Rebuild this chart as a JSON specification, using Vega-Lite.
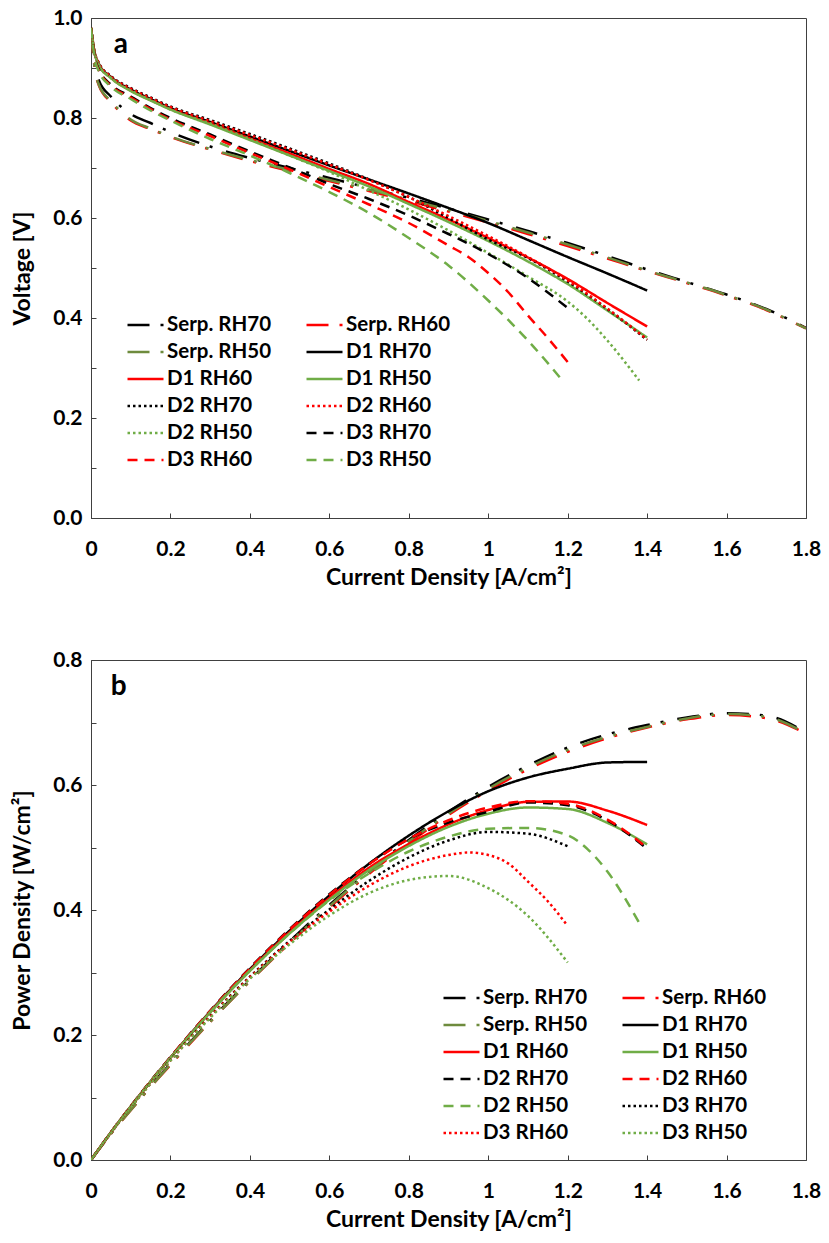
{
  "$schema": "https://vega.github.io/schema/vega-lite/v6.json",
  "background": "white",
  "padding": {"left": 11, "top": 6, "right": 8, "bottom": 5},
  "spacing": 58,
  "config": {
    "font": "Lato",
    "view": {"stroke": "#404040", "strokeWidth": 1},
    "axis": {"domainColor": "#404040", "tickColor": "#404040", "tickSize": -5, "labelFont": "Lato", "labelFontSize": 21, "labelFontWeight": "bold", "labelColor": "#000", "titleFont": "Lato", "titleFontSize": 23, "titleFontWeight": "bold", "titleColor": "#000", "grid": false, "labelOverlap": false, "labelFlush": false},
    "axisX": {"labelPadding": 25, "titlePadding": 7},
    "axisY": {"labelPadding": 14, "titlePadding": 18},
    "legend": {"title": null, "orient": "none", "direction": "horizontal", "columns": 2, "symbolType": "M-1.8,0H1.8", "symbolSize": 400, "symbolOffset": 8, "symbolStrokeWidth": 2.5, "labelFont": "Lato", "labelFontSize": 20.5, "labelFontWeight": "bold", "labelColor": "#000", "labelOffset": 10, "columnPadding": 29, "padding": 0, "labelLimit": 300}
  },
  "datasets": {
    "pol": [
      {"s":"Serp. RH70","i":0,"v":0.975},{"s":"Serp. RH70","i":0.01,"v":0.9},{"s":"Serp. RH70","i":0.02,"v":0.875},{"s":"Serp. RH70","i":0.05,"v":0.843},{"s":"Serp. RH70","i":0.1,"v":0.808},{"s":"Serp. RH70","i":0.15,"v":0.79},{"s":"Serp. RH70","i":0.2,"v":0.772},{"s":"Serp. RH70","i":0.3,"v":0.743},{"s":"Serp. RH70","i":0.4,"v":0.72},{"s":"Serp. RH70","i":0.5,"v":0.7},{"s":"Serp. RH70","i":0.6,"v":0.68},{"s":"Serp. RH70","i":0.7,"v":0.66},{"s":"Serp. RH70","i":0.8,"v":0.64},{"s":"Serp. RH70","i":0.9,"v":0.619},{"s":"Serp. RH70","i":1.0,"v":0.597},{"s":"Serp. RH70","i":1.1,"v":0.574},{"s":"Serp. RH70","i":1.2,"v":0.55},{"s":"Serp. RH70","i":1.3,"v":0.524},{"s":"Serp. RH70","i":1.4,"v":0.497},{"s":"Serp. RH70","i":1.5,"v":0.472},{"s":"Serp. RH70","i":1.6,"v":0.447},{"s":"Serp. RH70","i":1.7,"v":0.418},{"s":"Serp. RH70","i":1.8,"v":0.38},
      {"s":"Serp. RH60","i":0,"v":0.975},{"s":"Serp. RH60","i":0.01,"v":0.895},{"s":"Serp. RH60","i":0.02,"v":0.865},{"s":"Serp. RH60","i":0.05,"v":0.832},{"s":"Serp. RH60","i":0.1,"v":0.795},{"s":"Serp. RH60","i":0.15,"v":0.778},{"s":"Serp. RH60","i":0.2,"v":0.762},{"s":"Serp. RH60","i":0.3,"v":0.737},{"s":"Serp. RH60","i":0.4,"v":0.714},{"s":"Serp. RH60","i":0.5,"v":0.694},{"s":"Serp. RH60","i":0.6,"v":0.674},{"s":"Serp. RH60","i":0.7,"v":0.654},{"s":"Serp. RH60","i":0.8,"v":0.634},{"s":"Serp. RH60","i":0.9,"v":0.613},{"s":"Serp. RH60","i":1.0,"v":0.591},{"s":"Serp. RH60","i":1.1,"v":0.568},{"s":"Serp. RH60","i":1.2,"v":0.544},{"s":"Serp. RH60","i":1.3,"v":0.519},{"s":"Serp. RH60","i":1.4,"v":0.494},{"s":"Serp. RH60","i":1.5,"v":0.47},{"s":"Serp. RH60","i":1.6,"v":0.445},{"s":"Serp. RH60","i":1.7,"v":0.416},{"s":"Serp. RH60","i":1.8,"v":0.379},
      {"s":"Serp. RH50","i":0,"v":0.975},{"s":"Serp. RH50","i":0.01,"v":0.895},{"s":"Serp. RH50","i":0.02,"v":0.866},{"s":"Serp. RH50","i":0.05,"v":0.834},{"s":"Serp. RH50","i":0.1,"v":0.797},{"s":"Serp. RH50","i":0.15,"v":0.779},{"s":"Serp. RH50","i":0.2,"v":0.763},{"s":"Serp. RH50","i":0.3,"v":0.738},{"s":"Serp. RH50","i":0.4,"v":0.716},{"s":"Serp. RH50","i":0.5,"v":0.696},{"s":"Serp. RH50","i":0.6,"v":0.676},{"s":"Serp. RH50","i":0.7,"v":0.657},{"s":"Serp. RH50","i":0.8,"v":0.637},{"s":"Serp. RH50","i":0.9,"v":0.616},{"s":"Serp. RH50","i":1.0,"v":0.594},{"s":"Serp. RH50","i":1.1,"v":0.571},{"s":"Serp. RH50","i":1.2,"v":0.547},{"s":"Serp. RH50","i":1.3,"v":0.521},{"s":"Serp. RH50","i":1.4,"v":0.495},{"s":"Serp. RH50","i":1.5,"v":0.471},{"s":"Serp. RH50","i":1.6,"v":0.446},{"s":"Serp. RH50","i":1.7,"v":0.417},{"s":"Serp. RH50","i":1.8,"v":0.379},
      {"s":"D1 RH70","i":0,"v":0.98},{"s":"D1 RH70","i":0.01,"v":0.928},{"s":"D1 RH70","i":0.02,"v":0.908},{"s":"D1 RH70","i":0.05,"v":0.882},{"s":"D1 RH70","i":0.1,"v":0.857},{"s":"D1 RH70","i":0.15,"v":0.838},{"s":"D1 RH70","i":0.2,"v":0.82},{"s":"D1 RH70","i":0.3,"v":0.792},{"s":"D1 RH70","i":0.4,"v":0.763},{"s":"D1 RH70","i":0.5,"v":0.734},{"s":"D1 RH70","i":0.6,"v":0.705},{"s":"D1 RH70","i":0.7,"v":0.677},{"s":"D1 RH70","i":0.8,"v":0.649},{"s":"D1 RH70","i":0.9,"v":0.62},{"s":"D1 RH70","i":1.0,"v":0.59},{"s":"D1 RH70","i":1.1,"v":0.556},{"s":"D1 RH70","i":1.2,"v":0.522},{"s":"D1 RH70","i":1.3,"v":0.489},{"s":"D1 RH70","i":1.4,"v":0.455},
      {"s":"D1 RH60","i":0,"v":0.98},{"s":"D1 RH60","i":0.01,"v":0.928},{"s":"D1 RH60","i":0.02,"v":0.907},{"s":"D1 RH60","i":0.05,"v":0.881},{"s":"D1 RH60","i":0.1,"v":0.855},{"s":"D1 RH60","i":0.15,"v":0.836},{"s":"D1 RH60","i":0.2,"v":0.818},{"s":"D1 RH60","i":0.3,"v":0.789},{"s":"D1 RH60","i":0.4,"v":0.759},{"s":"D1 RH60","i":0.5,"v":0.729},{"s":"D1 RH60","i":0.6,"v":0.698},{"s":"D1 RH60","i":0.7,"v":0.668},{"s":"D1 RH60","i":0.8,"v":0.632},{"s":"D1 RH60","i":0.9,"v":0.597},{"s":"D1 RH60","i":1.0,"v":0.56},{"s":"D1 RH60","i":1.1,"v":0.521},{"s":"D1 RH60","i":1.2,"v":0.478},{"s":"D1 RH60","i":1.3,"v":0.43},{"s":"D1 RH60","i":1.4,"v":0.383},
      {"s":"D1 RH50","i":0,"v":0.98},{"s":"D1 RH50","i":0.01,"v":0.927},{"s":"D1 RH50","i":0.02,"v":0.906},{"s":"D1 RH50","i":0.05,"v":0.88},{"s":"D1 RH50","i":0.1,"v":0.854},{"s":"D1 RH50","i":0.15,"v":0.835},{"s":"D1 RH50","i":0.2,"v":0.817},{"s":"D1 RH50","i":0.3,"v":0.787},{"s":"D1 RH50","i":0.4,"v":0.756},{"s":"D1 RH50","i":0.5,"v":0.725},{"s":"D1 RH50","i":0.6,"v":0.694},{"s":"D1 RH50","i":0.7,"v":0.663},{"s":"D1 RH50","i":0.8,"v":0.628},{"s":"D1 RH50","i":0.9,"v":0.592},{"s":"D1 RH50","i":1.0,"v":0.554},{"s":"D1 RH50","i":1.1,"v":0.513},{"s":"D1 RH50","i":1.2,"v":0.468},{"s":"D1 RH50","i":1.3,"v":0.415},{"s":"D1 RH50","i":1.4,"v":0.361},
      {"s":"D2 RH70","i":0,"v":0.98},{"s":"D2 RH70","i":0.01,"v":0.93},{"s":"D2 RH70","i":0.02,"v":0.91},{"s":"D2 RH70","i":0.05,"v":0.884},{"s":"D2 RH70","i":0.1,"v":0.86},{"s":"D2 RH70","i":0.15,"v":0.841},{"s":"D2 RH70","i":0.2,"v":0.823},{"s":"D2 RH70","i":0.3,"v":0.796},{"s":"D2 RH70","i":0.4,"v":0.768},{"s":"D2 RH70","i":0.5,"v":0.739},{"s":"D2 RH70","i":0.6,"v":0.709},{"s":"D2 RH70","i":0.7,"v":0.677},{"s":"D2 RH70","i":0.8,"v":0.642},{"s":"D2 RH70","i":0.9,"v":0.6},{"s":"D2 RH70","i":1.0,"v":0.557},{"s":"D2 RH70","i":1.1,"v":0.52},{"s":"D2 RH70","i":1.2,"v":0.473},{"s":"D2 RH70","i":1.3,"v":0.418},{"s":"D2 RH70","i":1.4,"v":0.356},
      {"s":"D2 RH60","i":0,"v":0.98},{"s":"D2 RH60","i":0.01,"v":0.929},{"s":"D2 RH60","i":0.02,"v":0.909},{"s":"D2 RH60","i":0.05,"v":0.883},{"s":"D2 RH60","i":0.1,"v":0.859},{"s":"D2 RH60","i":0.15,"v":0.84},{"s":"D2 RH60","i":0.2,"v":0.822},{"s":"D2 RH60","i":0.3,"v":0.794},{"s":"D2 RH60","i":0.4,"v":0.766},{"s":"D2 RH60","i":0.5,"v":0.737},{"s":"D2 RH60","i":0.6,"v":0.707},{"s":"D2 RH60","i":0.7,"v":0.676},{"s":"D2 RH60","i":0.8,"v":0.642},{"s":"D2 RH60","i":0.9,"v":0.604},{"s":"D2 RH60","i":1.0,"v":0.564},{"s":"D2 RH60","i":1.1,"v":0.522},{"s":"D2 RH60","i":1.2,"v":0.475},{"s":"D2 RH60","i":1.3,"v":0.419},{"s":"D2 RH60","i":1.4,"v":0.357},
      {"s":"D2 RH50","i":0,"v":0.98},{"s":"D2 RH50","i":0.01,"v":0.927},{"s":"D2 RH50","i":0.02,"v":0.906},{"s":"D2 RH50","i":0.05,"v":0.88},{"s":"D2 RH50","i":0.1,"v":0.855},{"s":"D2 RH50","i":0.15,"v":0.836},{"s":"D2 RH50","i":0.2,"v":0.817},{"s":"D2 RH50","i":0.3,"v":0.789},{"s":"D2 RH50","i":0.4,"v":0.758},{"s":"D2 RH50","i":0.5,"v":0.725},{"s":"D2 RH50","i":0.6,"v":0.692},{"s":"D2 RH50","i":0.7,"v":0.655},{"s":"D2 RH50","i":0.8,"v":0.617},{"s":"D2 RH50","i":0.9,"v":0.575},{"s":"D2 RH50","i":1.0,"v":0.53},{"s":"D2 RH50","i":1.1,"v":0.483},{"s":"D2 RH50","i":1.2,"v":0.433},{"s":"D2 RH50","i":1.25,"v":0.398},{"s":"D2 RH50","i":1.3,"v":0.355},{"s":"D2 RH50","i":1.38,"v":0.275},
      {"s":"D3 RH70","i":0,"v":0.98},{"s":"D3 RH70","i":0.01,"v":0.92},{"s":"D3 RH70","i":0.02,"v":0.897},{"s":"D3 RH70","i":0.05,"v":0.867},{"s":"D3 RH70","i":0.1,"v":0.843},{"s":"D3 RH70","i":0.15,"v":0.82},{"s":"D3 RH70","i":0.2,"v":0.8},{"s":"D3 RH70","i":0.3,"v":0.767},{"s":"D3 RH70","i":0.4,"v":0.733},{"s":"D3 RH70","i":0.5,"v":0.701},{"s":"D3 RH70","i":0.6,"v":0.668},{"s":"D3 RH70","i":0.7,"v":0.638},{"s":"D3 RH70","i":0.8,"v":0.605},{"s":"D3 RH70","i":0.9,"v":0.568},{"s":"D3 RH70","i":1.0,"v":0.528},{"s":"D3 RH70","i":1.1,"v":0.48},{"s":"D3 RH70","i":1.2,"v":0.42},
      {"s":"D3 RH60","i":0,"v":0.98},{"s":"D3 RH60","i":0.01,"v":0.918},{"s":"D3 RH60","i":0.02,"v":0.895},{"s":"D3 RH60","i":0.05,"v":0.865},{"s":"D3 RH60","i":0.1,"v":0.841},{"s":"D3 RH60","i":0.15,"v":0.818},{"s":"D3 RH60","i":0.2,"v":0.797},{"s":"D3 RH60","i":0.3,"v":0.764},{"s":"D3 RH60","i":0.4,"v":0.73},{"s":"D3 RH60","i":0.5,"v":0.697},{"s":"D3 RH60","i":0.6,"v":0.662},{"s":"D3 RH60","i":0.7,"v":0.627},{"s":"D3 RH60","i":0.8,"v":0.59},{"s":"D3 RH60","i":0.9,"v":0.545},{"s":"D3 RH60","i":0.95,"v":0.522},{"s":"D3 RH60","i":1.0,"v":0.49},{"s":"D3 RH60","i":1.05,"v":0.452},{"s":"D3 RH60","i":1.1,"v":0.405},{"s":"D3 RH60","i":1.15,"v":0.36},{"s":"D3 RH60","i":1.2,"v":0.312},
      {"s":"D3 RH50","i":0,"v":0.98},{"s":"D3 RH50","i":0.01,"v":0.916},{"s":"D3 RH50","i":0.02,"v":0.893},{"s":"D3 RH50","i":0.05,"v":0.863},{"s":"D3 RH50","i":0.1,"v":0.838},{"s":"D3 RH50","i":0.15,"v":0.815},{"s":"D3 RH50","i":0.2,"v":0.795},{"s":"D3 RH50","i":0.3,"v":0.758},{"s":"D3 RH50","i":0.4,"v":0.725},{"s":"D3 RH50","i":0.5,"v":0.69},{"s":"D3 RH50","i":0.6,"v":0.652},{"s":"D3 RH50","i":0.7,"v":0.61},{"s":"D3 RH50","i":0.8,"v":0.56},{"s":"D3 RH50","i":0.9,"v":0.505},{"s":"D3 RH50","i":1.0,"v":0.435},{"s":"D3 RH50","i":1.1,"v":0.355},{"s":"D3 RH50","i":1.19,"v":0.272}
    ],
    "pow": [
      {"s":"Serp. RH70","i":0,"p":0},{"s":"Serp. RH70","i":0.05,"p":0.042},{"s":"Serp. RH70","i":0.1,"p":0.081},{"s":"Serp. RH70","i":0.15,"p":0.119},{"s":"Serp. RH70","i":0.2,"p":0.154},{"s":"Serp. RH70","i":0.3,"p":0.223},{"s":"Serp. RH70","i":0.4,"p":0.288},{"s":"Serp. RH70","i":0.5,"p":0.35},{"s":"Serp. RH70","i":0.6,"p":0.408},{"s":"Serp. RH70","i":0.7,"p":0.462},{"s":"Serp. RH70","i":0.8,"p":0.512},{"s":"Serp. RH70","i":0.9,"p":0.557},{"s":"Serp. RH70","i":1.0,"p":0.597},{"s":"Serp. RH70","i":1.1,"p":0.631},{"s":"Serp. RH70","i":1.2,"p":0.66},{"s":"Serp. RH70","i":1.3,"p":0.681},{"s":"Serp. RH70","i":1.4,"p":0.696},{"s":"Serp. RH70","i":1.5,"p":0.708},{"s":"Serp. RH70","i":1.6,"p":0.715},{"s":"Serp. RH70","i":1.7,"p":0.711},{"s":"Serp. RH70","i":1.8,"p":0.684},
      {"s":"Serp. RH60","i":0,"p":0},{"s":"Serp. RH60","i":0.05,"p":0.042},{"s":"Serp. RH60","i":0.1,"p":0.0795},{"s":"Serp. RH60","i":0.15,"p":0.117},{"s":"Serp. RH60","i":0.2,"p":0.152},{"s":"Serp. RH60","i":0.3,"p":0.221},{"s":"Serp. RH60","i":0.4,"p":0.286},{"s":"Serp. RH60","i":0.5,"p":0.347},{"s":"Serp. RH60","i":0.6,"p":0.404},{"s":"Serp. RH60","i":0.7,"p":0.458},{"s":"Serp. RH60","i":0.8,"p":0.507},{"s":"Serp. RH60","i":0.9,"p":0.552},{"s":"Serp. RH60","i":1.0,"p":0.591},{"s":"Serp. RH60","i":1.1,"p":0.625},{"s":"Serp. RH60","i":1.2,"p":0.653},{"s":"Serp. RH60","i":1.3,"p":0.675},{"s":"Serp. RH60","i":1.4,"p":0.692},{"s":"Serp. RH60","i":1.5,"p":0.705},{"s":"Serp. RH60","i":1.6,"p":0.712},{"s":"Serp. RH60","i":1.7,"p":0.707},{"s":"Serp. RH60","i":1.8,"p":0.682},
      {"s":"Serp. RH50","i":0,"p":0},{"s":"Serp. RH50","i":0.05,"p":0.042},{"s":"Serp. RH50","i":0.1,"p":0.0797},{"s":"Serp. RH50","i":0.15,"p":0.117},{"s":"Serp. RH50","i":0.2,"p":0.153},{"s":"Serp. RH50","i":0.3,"p":0.221},{"s":"Serp. RH50","i":0.4,"p":0.286},{"s":"Serp. RH50","i":0.5,"p":0.348},{"s":"Serp. RH50","i":0.6,"p":0.406},{"s":"Serp. RH50","i":0.7,"p":0.46},{"s":"Serp. RH50","i":0.8,"p":0.51},{"s":"Serp. RH50","i":0.9,"p":0.554},{"s":"Serp. RH50","i":1.0,"p":0.594},{"s":"Serp. RH50","i":1.1,"p":0.628},{"s":"Serp. RH50","i":1.2,"p":0.656},{"s":"Serp. RH50","i":1.3,"p":0.677},{"s":"Serp. RH50","i":1.4,"p":0.693},{"s":"Serp. RH50","i":1.5,"p":0.7065},{"s":"Serp. RH50","i":1.6,"p":0.7135},{"s":"Serp. RH50","i":1.7,"p":0.709},{"s":"Serp. RH50","i":1.8,"p":0.682},
      {"s":"D1 RH70","i":0,"p":0},{"s":"D1 RH70","i":0.05,"p":0.0441},{"s":"D1 RH70","i":0.1,"p":0.0857},{"s":"D1 RH70","i":0.15,"p":0.1257},{"s":"D1 RH70","i":0.2,"p":0.164},{"s":"D1 RH70","i":0.3,"p":0.2376},{"s":"D1 RH70","i":0.4,"p":0.3052},{"s":"D1 RH70","i":0.5,"p":0.367},{"s":"D1 RH70","i":0.6,"p":0.423},{"s":"D1 RH70","i":0.7,"p":0.474},{"s":"D1 RH70","i":0.8,"p":0.519},{"s":"D1 RH70","i":0.9,"p":0.558},{"s":"D1 RH70","i":1.0,"p":0.59},{"s":"D1 RH70","i":1.1,"p":0.612},{"s":"D1 RH70","i":1.2,"p":0.626},{"s":"D1 RH70","i":1.3,"p":0.636},{"s":"D1 RH70","i":1.4,"p":0.637},
      {"s":"D1 RH60","i":0,"p":0},{"s":"D1 RH60","i":0.05,"p":0.044},{"s":"D1 RH60","i":0.1,"p":0.0855},{"s":"D1 RH60","i":0.15,"p":0.1254},{"s":"D1 RH60","i":0.2,"p":0.1636},{"s":"D1 RH60","i":0.3,"p":0.2367},{"s":"D1 RH60","i":0.4,"p":0.3036},{"s":"D1 RH60","i":0.5,"p":0.3645},{"s":"D1 RH60","i":0.6,"p":0.419},{"s":"D1 RH60","i":0.7,"p":0.4676},{"s":"D1 RH60","i":0.8,"p":0.5056},{"s":"D1 RH60","i":0.9,"p":0.537},{"s":"D1 RH60","i":1.0,"p":0.56},{"s":"D1 RH60","i":1.1,"p":0.573},{"s":"D1 RH60","i":1.2,"p":0.5736},{"s":"D1 RH60","i":1.3,"p":0.559},{"s":"D1 RH60","i":1.4,"p":0.536},
      {"s":"D1 RH50","i":0,"p":0},{"s":"D1 RH50","i":0.05,"p":0.044},{"s":"D1 RH50","i":0.1,"p":0.0854},{"s":"D1 RH50","i":0.15,"p":0.1253},{"s":"D1 RH50","i":0.2,"p":0.1634},{"s":"D1 RH50","i":0.3,"p":0.2361},{"s":"D1 RH50","i":0.4,"p":0.3024},{"s":"D1 RH50","i":0.5,"p":0.3625},{"s":"D1 RH50","i":0.6,"p":0.4164},{"s":"D1 RH50","i":0.7,"p":0.464},{"s":"D1 RH50","i":0.8,"p":0.5024},{"s":"D1 RH50","i":0.9,"p":0.533},{"s":"D1 RH50","i":1.0,"p":0.554},{"s":"D1 RH50","i":1.1,"p":0.564},{"s":"D1 RH50","i":1.2,"p":0.5616},{"s":"D1 RH50","i":1.3,"p":0.5395},{"s":"D1 RH50","i":1.4,"p":0.505},
      {"s":"D2 RH70","i":0,"p":0},{"s":"D2 RH70","i":0.05,"p":0.0442},{"s":"D2 RH70","i":0.1,"p":0.086},{"s":"D2 RH70","i":0.15,"p":0.1262},{"s":"D2 RH70","i":0.2,"p":0.1646},{"s":"D2 RH70","i":0.3,"p":0.2388},{"s":"D2 RH70","i":0.4,"p":0.3072},{"s":"D2 RH70","i":0.5,"p":0.3695},{"s":"D2 RH70","i":0.6,"p":0.4254},{"s":"D2 RH70","i":0.7,"p":0.474},{"s":"D2 RH70","i":0.8,"p":0.5136},{"s":"D2 RH70","i":0.9,"p":0.54},{"s":"D2 RH70","i":1.0,"p":0.557},{"s":"D2 RH70","i":1.1,"p":0.572},{"s":"D2 RH70","i":1.2,"p":0.5676},{"s":"D2 RH70","i":1.3,"p":0.5434},{"s":"D2 RH70","i":1.4,"p":0.498},
      {"s":"D2 RH60","i":0,"p":0},{"s":"D2 RH60","i":0.05,"p":0.0442},{"s":"D2 RH60","i":0.1,"p":0.0859},{"s":"D2 RH60","i":0.15,"p":0.126},{"s":"D2 RH60","i":0.2,"p":0.1644},{"s":"D2 RH60","i":0.3,"p":0.2382},{"s":"D2 RH60","i":0.4,"p":0.3064},{"s":"D2 RH60","i":0.5,"p":0.3685},{"s":"D2 RH60","i":0.6,"p":0.4242},{"s":"D2 RH60","i":0.7,"p":0.4732},{"s":"D2 RH60","i":0.8,"p":0.5136},{"s":"D2 RH60","i":0.9,"p":0.5436},{"s":"D2 RH60","i":1.0,"p":0.564},{"s":"D2 RH60","i":1.1,"p":0.5742},{"s":"D2 RH60","i":1.2,"p":0.57},{"s":"D2 RH60","i":1.3,"p":0.5447},{"s":"D2 RH60","i":1.4,"p":0.4998},
      {"s":"D2 RH50","i":0,"p":0},{"s":"D2 RH50","i":0.05,"p":0.044},{"s":"D2 RH50","i":0.1,"p":0.0855},{"s":"D2 RH50","i":0.15,"p":0.1254},{"s":"D2 RH50","i":0.2,"p":0.1634},{"s":"D2 RH50","i":0.3,"p":0.2367},{"s":"D2 RH50","i":0.4,"p":0.3032},{"s":"D2 RH50","i":0.5,"p":0.3625},{"s":"D2 RH50","i":0.6,"p":0.4152},{"s":"D2 RH50","i":0.7,"p":0.4585},{"s":"D2 RH50","i":0.8,"p":0.4936},{"s":"D2 RH50","i":0.9,"p":0.5175},{"s":"D2 RH50","i":1.0,"p":0.53},{"s":"D2 RH50","i":1.1,"p":0.5313},{"s":"D2 RH50","i":1.2,"p":0.5196},{"s":"D2 RH50","i":1.25,"p":0.4975},{"s":"D2 RH50","i":1.3,"p":0.4615},{"s":"D2 RH50","i":1.38,"p":0.3795},
      {"s":"D3 RH70","i":0,"p":0},{"s":"D3 RH70","i":0.05,"p":0.0434},{"s":"D3 RH70","i":0.1,"p":0.0843},{"s":"D3 RH70","i":0.15,"p":0.123},{"s":"D3 RH70","i":0.2,"p":0.16},{"s":"D3 RH70","i":0.3,"p":0.2301},{"s":"D3 RH70","i":0.4,"p":0.2932},{"s":"D3 RH70","i":0.5,"p":0.3505},{"s":"D3 RH70","i":0.6,"p":0.4008},{"s":"D3 RH70","i":0.7,"p":0.4466},{"s":"D3 RH70","i":0.8,"p":0.484},{"s":"D3 RH70","i":0.9,"p":0.5112},{"s":"D3 RH70","i":1.0,"p":0.525},{"s":"D3 RH70","i":1.1,"p":0.522},{"s":"D3 RH70","i":1.2,"p":0.502},
      {"s":"D3 RH60","i":0,"p":0},{"s":"D3 RH60","i":0.05,"p":0.0433},{"s":"D3 RH60","i":0.1,"p":0.0841},{"s":"D3 RH60","i":0.15,"p":0.1227},{"s":"D3 RH60","i":0.2,"p":0.1594},{"s":"D3 RH60","i":0.3,"p":0.2292},{"s":"D3 RH60","i":0.4,"p":0.292},{"s":"D3 RH60","i":0.5,"p":0.3485},{"s":"D3 RH60","i":0.6,"p":0.3972},{"s":"D3 RH60","i":0.7,"p":0.4389},{"s":"D3 RH60","i":0.8,"p":0.47},{"s":"D3 RH60","i":0.9,"p":0.488},{"s":"D3 RH60","i":0.95,"p":0.492},{"s":"D3 RH60","i":1.0,"p":0.488},{"s":"D3 RH60","i":1.05,"p":0.4746},{"s":"D3 RH60","i":1.1,"p":0.4455},{"s":"D3 RH60","i":1.15,"p":0.414},{"s":"D3 RH60","i":1.2,"p":0.3744},
      {"s":"D3 RH50","i":0,"p":0},{"s":"D3 RH50","i":0.05,"p":0.0432},{"s":"D3 RH50","i":0.1,"p":0.0838},{"s":"D3 RH50","i":0.15,"p":0.1223},{"s":"D3 RH50","i":0.2,"p":0.159},{"s":"D3 RH50","i":0.3,"p":0.2274},{"s":"D3 RH50","i":0.4,"p":0.29},{"s":"D3 RH50","i":0.5,"p":0.345},{"s":"D3 RH50","i":0.6,"p":0.3912},{"s":"D3 RH50","i":0.7,"p":0.427},{"s":"D3 RH50","i":0.8,"p":0.448},{"s":"D3 RH50","i":0.9,"p":0.4545},{"s":"D3 RH50","i":1.0,"p":0.435},{"s":"D3 RH50","i":1.1,"p":0.3905},{"s":"D3 RH50","i":1.2,"p":0.316}
    ]
  },
  "vconcat": [
    {
      "width": 715,
      "height": 500,
      "layer": [
        {
          "data": {"name": "pol"},
          "mark": {"type": "line", "strokeWidth": 2.5, "interpolate": "monotone", "clip": true},
          "encoding": {
            "x": {"field": "i", "type": "quantitative", "scale": {"domain": [0, 1.8], "nice": false, "zero": true},
                  "axis": {"title": "Current Density [A/cm²]", "values": [0,0.1,0.2,0.3,0.4,0.5,0.6,0.7,0.8,0.9,1,1.1,1.2,1.3,1.4,1.5,1.6,1.7,1.8], "labelExpr": "abs(round(datum.value*10))%2==1 ? '' : format(datum.value, '~g')"}},
            "y": {"field": "v", "type": "quantitative", "scale": {"domain": [0, 1], "nice": false},
                  "axis": {"title": "Voltage [V]", "values": [0,0.1,0.2,0.3,0.4,0.5,0.6,0.7,0.8,0.9,1], "labelExpr": "abs(round(datum.value*10))%2==1 ? '' : format(datum.value, '.1f')"}},
            "color": {"field": "s", "type": "nominal",
                      "scale": {"domain": ["Serp. RH70","Serp. RH60","Serp. RH50","D1 RH70","D1 RH60","D1 RH50","D2 RH70","D2 RH60","D2 RH50","D3 RH70","D3 RH60","D3 RH50"],
                                "range": ["#000000","#FF0000","#6E8B3D","#000000","#FF0000","#70AD47","#000000","#FF0000","#70AD47","#000000","#FF0000","#70AD47"]},
                      "legend": {"legendX": 35, "legendY": 295.5, "rowPadding": 5}},
            "strokeDash": {"field": "s", "type": "nominal",
                      "scale": {"domain": ["Serp. RH70","Serp. RH60","Serp. RH50","D1 RH70","D1 RH60","D1 RH50","D2 RH70","D2 RH60","D2 RH50","D3 RH70","D3 RH60","D3 RH50"],
                                "range": [[22,11,3,14],[22,11,3,14],[22,11,3,14],[1,0],[1,0],[1,0],[2.5,3],[2.5,3],[2.5,3],[10,7],[10,7],[10,7]]},
                      "legend": {"legendX": 35, "legendY": 295.5, "rowPadding": 5}}
          }
        },
        {
          "data": {"values": [{"lab": "a"}]},
          "mark": {"type": "text", "font": "Lato", "fontSize": 28, "fontWeight": "bold", "color": "#000", "align": "center", "baseline": "middle"},
          "encoding": {"x": {"datum": 0.075, "type": "quantitative"}, "y": {"datum": 0.946, "type": "quantitative"}, "text": {"field": "lab"}}
        }
      ]
    },
    {
      "width": 715,
      "height": 500,
      "layer": [
        {
          "data": {"name": "pow"},
          "mark": {"type": "line", "strokeWidth": 2.5, "interpolate": "monotone", "clip": true},
          "encoding": {
            "x": {"field": "i", "type": "quantitative", "scale": {"domain": [0, 1.8], "nice": false, "zero": true},
                  "axis": {"title": "Current Density [A/cm²]", "values": [0,0.1,0.2,0.3,0.4,0.5,0.6,0.7,0.8,0.9,1,1.1,1.2,1.3,1.4,1.5,1.6,1.7,1.8], "labelExpr": "abs(round(datum.value*10))%2==1 ? '' : format(datum.value, '~g')"}},
            "y": {"field": "p", "type": "quantitative", "scale": {"domain": [0, 0.8], "nice": false},
                  "axis": {"title": "Power Density [W/cm²]", "values": [0,0.1,0.2,0.3,0.4,0.5,0.6,0.7,0.8], "labelExpr": "abs(round(datum.value*10))%2==1 ? '' : format(datum.value, '.1f')"}},
            "color": {"field": "s", "type": "nominal",
                      "scale": {"domain": ["Serp. RH70","Serp. RH60","Serp. RH50","D1 RH70","D1 RH60","D1 RH50","D2 RH70","D2 RH60","D2 RH50","D3 RH70","D3 RH60","D3 RH50"],
                                "range": ["#000000","#FF0000","#6E8B3D","#000000","#FF0000","#70AD47","#000000","#FF0000","#70AD47","#000000","#FF0000","#70AD47"]},
                      "legend": {"legendX": 351, "legendY": 326.5, "rowPadding": 5}},
            "strokeDash": {"field": "s", "type": "nominal",
                      "scale": {"domain": ["Serp. RH70","Serp. RH60","Serp. RH50","D1 RH70","D1 RH60","D1 RH50","D2 RH70","D2 RH60","D2 RH50","D3 RH70","D3 RH60","D3 RH50"],
                                "range": [[22,11,3,14],[22,11,3,14],[22,11,3,14],[1,0],[1,0],[1,0],[10,7],[10,7],[10,7],[2.5,3],[2.5,3],[2.5,3]]},
                      "legend": {"legendX": 351, "legendY": 326.5, "rowPadding": 5}}
          }
        },
        {
          "data": {"values": [{"lab": "b"}]},
          "mark": {"type": "text", "font": "Lato", "fontSize": 28, "fontWeight": "bold", "color": "#000", "align": "center", "baseline": "middle"},
          "encoding": {"x": {"datum": 0.07, "type": "quantitative"}, "y": {"datum": 0.757, "type": "quantitative"}, "text": {"field": "lab"}}
        }
      ]
    }
  ],
  "resolve": {"scale": {"x": "independent", "y": "independent", "color": "independent", "strokeDash": "independent"}, "legend": {"color": "independent", "strokeDash": "independent"}}
}
